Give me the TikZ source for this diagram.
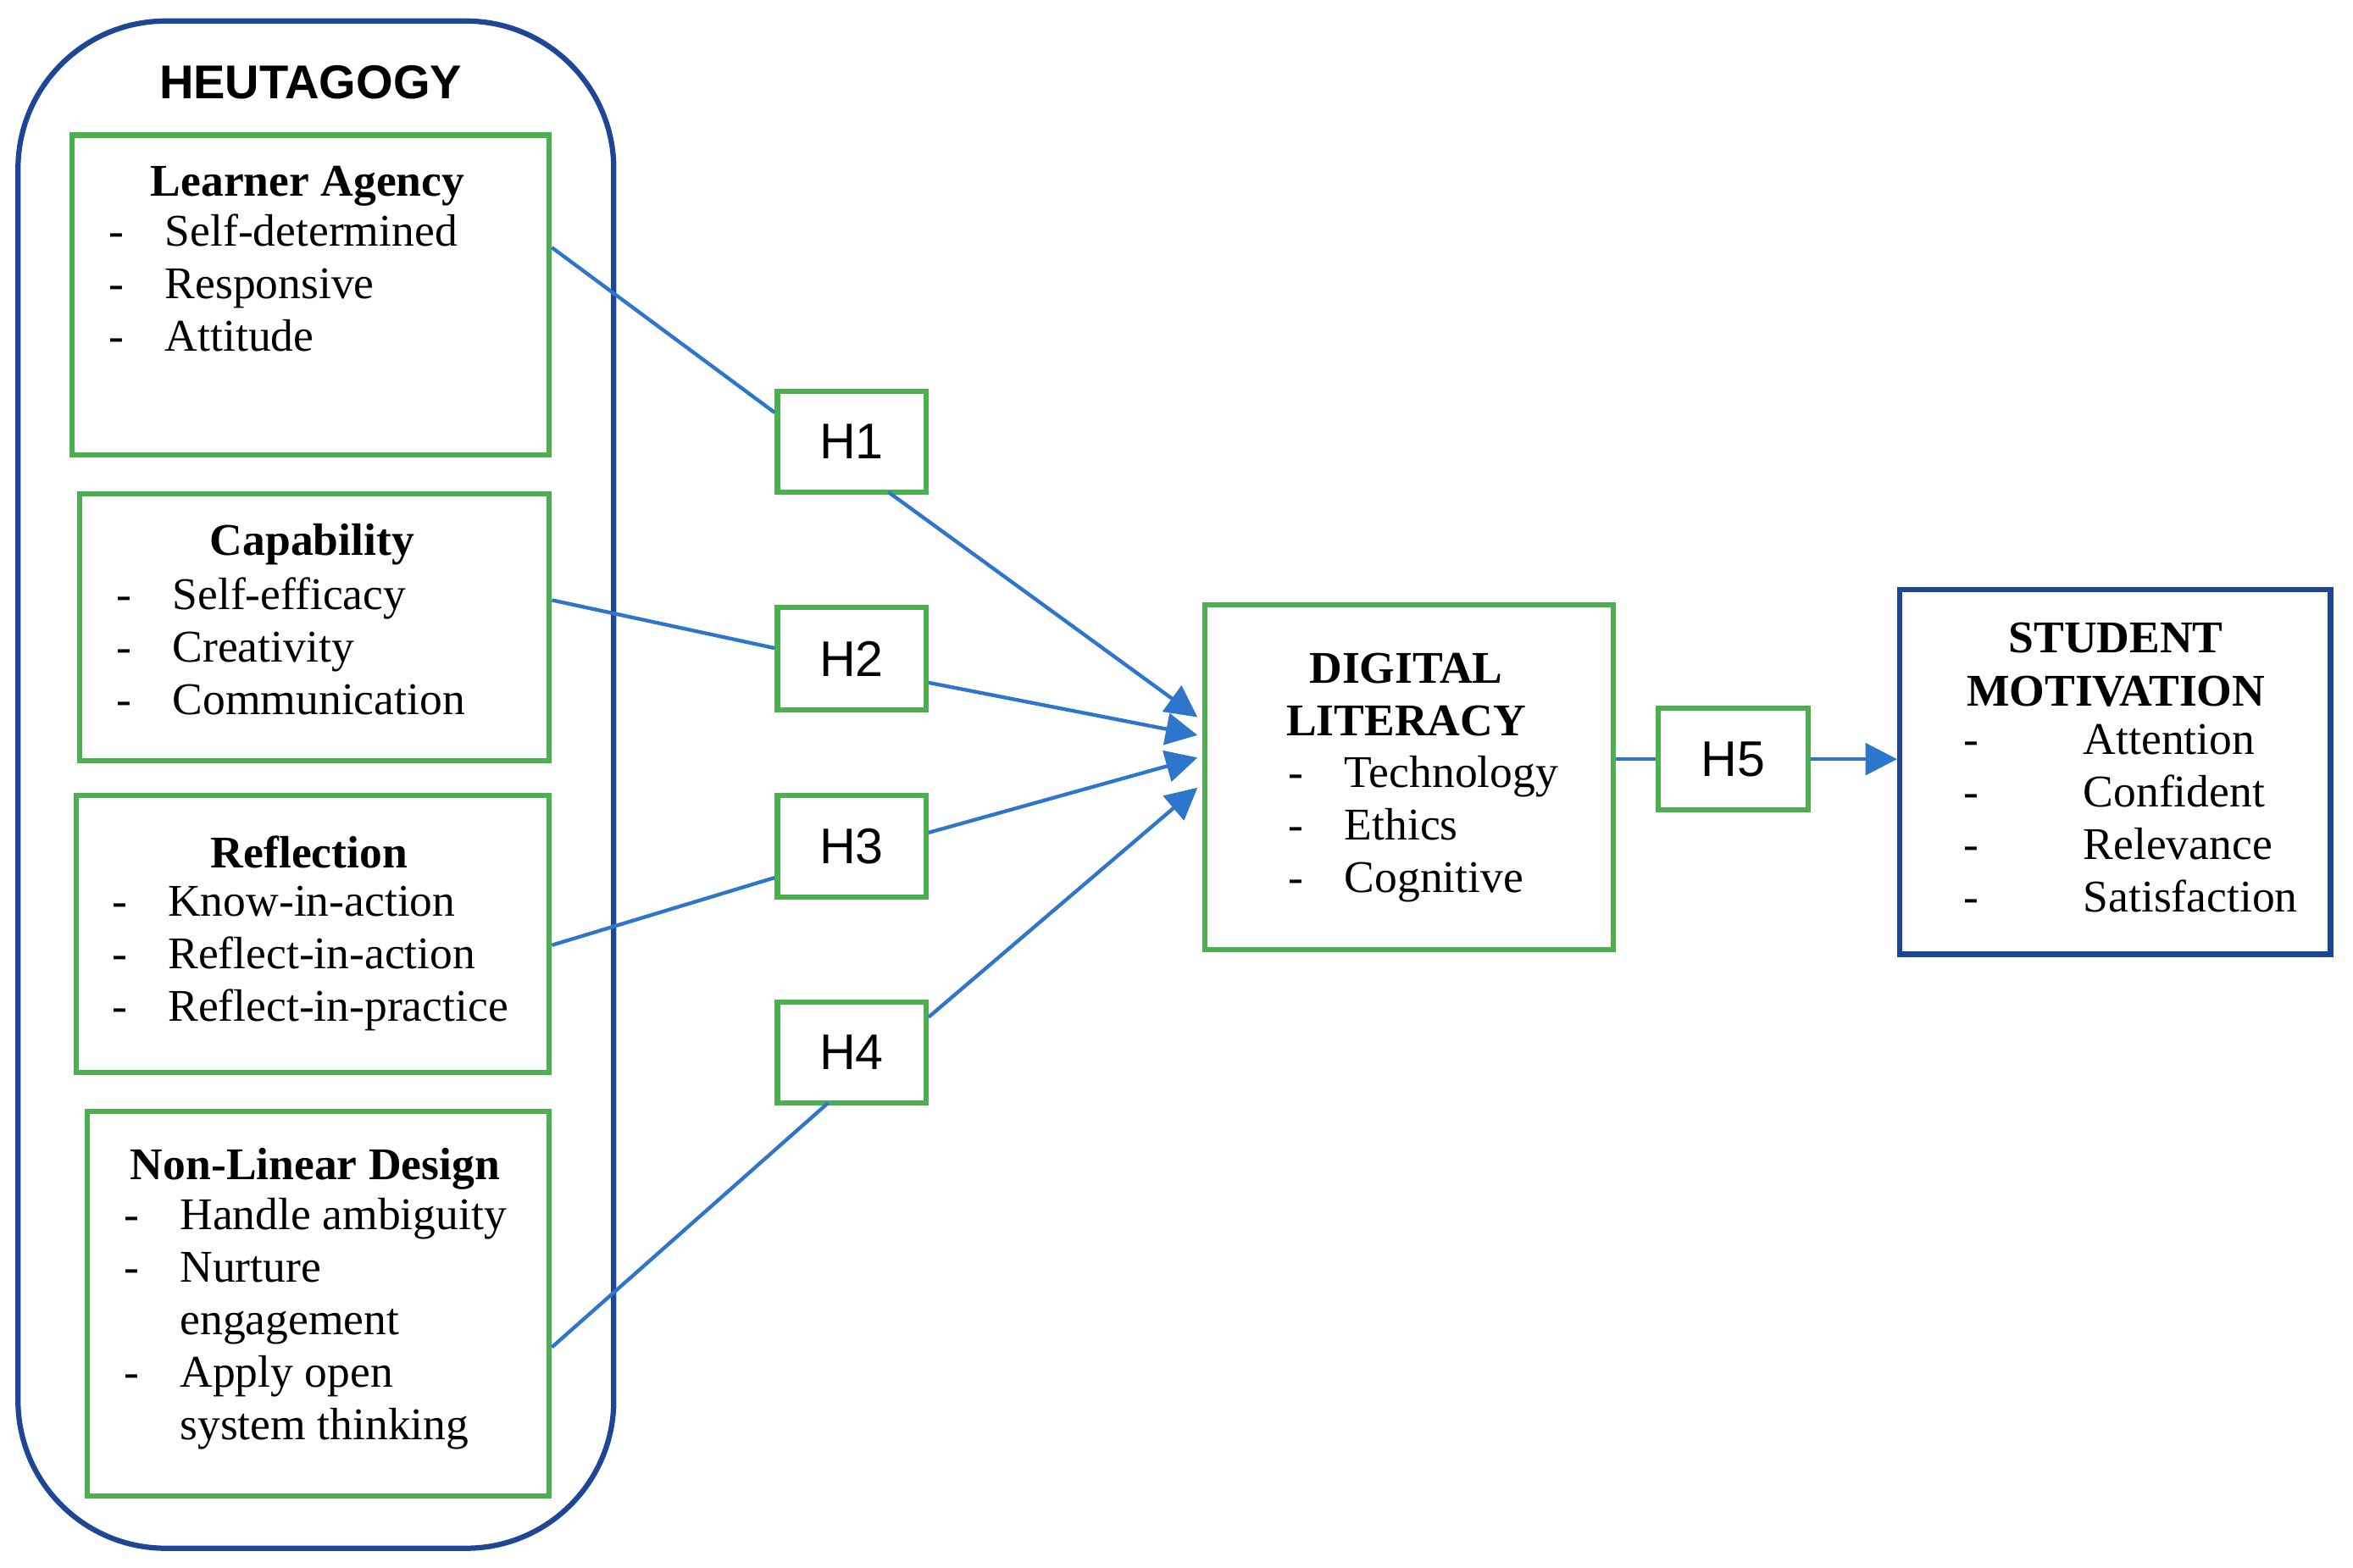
\documentclass[tikz,border=0pt]{standalone}
\usepackage{fontspec}
\setmainfont{Liberation Serif}
\newfontfamily\hfont{Liberation Sans}
\usetikzlibrary{fit,arrows.meta}
\definecolor{boxgreen}{RGB}{76,175,80}
\definecolor{lineblue}{RGB}{46,117,204}
\definecolor{darkblue}{RGB}{30,70,150}
\tikzset{
  gbox/.style={draw=boxgreen,line width=1pt,inner sep=0pt},
  bbox/.style={draw=darkblue,line width=1pt,inner sep=0pt},
  hyp/.style={gbox,label={[font=\hfont\fontsize{9.5}{12}\selectfont]center:#1}},
  ttl/.style={font=\bfseries\fontsize{8.6}{10}\selectfont,align=center},
  lst/.style={anchor=north west,inner sep=0pt,font=\fontsize{8.6}{9.96}\selectfont,align=left},
  con/.style={draw=lineblue,line width=0.7pt},
  arr/.style={con,-{Triangle[length=6pt,width=6pt]}}
}
\newcommand{\itm}[1]{-\hspace{0.9em}#1}
\begin{document}
\begin{tikzpicture}[x=0.01cm,y=-0.01cm]
\useasboundingbox (0,0) rectangle (1568,1045);
% outer frame
\draw[darkblue,line width=1pt,rounded corners=28pt] (12,14) rectangle (409,1032);
\node[font=\hfont\bfseries\fontsize{9}{11}\selectfont] (heu) at (207,55) {HEUTAGOGY};
% boxes
\node[gbox,fit={(48,90)(366,303)}] (la) {};
\node[gbox,fit={(53,329)(366,507)}] (cap) {};
\node[gbox,fit={(51,530)(366,715)}] (ref) {};
\node[gbox,fit={(58,741)(366,997)}] (nld) {};
\node[hyp=H1,fit={(518,261)(617,328)}] (h1) {};
\node[hyp=H2,fit={(518,405)(617,473)}] (h2) {};
\node[hyp=H3,fit={(518,530)(617,598)}] (h3) {};
\node[hyp=H4,fit={(518,668)(617,735)}] (h4) {};
\node[gbox,fit={(803,403)(1075,633)}] (dl) {};
\node[hyp=H5,fit={(1105,472)(1205,540)}] (h5) {};
\node[bbox,fit={(1266,393)(1553,636)}] (sm) {};
% texts
\node[ttl] (lat) at (205,124) {Learner Agency};
\node[lst] (lal) at (72,142) {\itm{Self-determined}\\ \itm{Responsive}\\ \itm{Attitude}};
\node[ttl] (capt) at (208,363) {Capability};
\node[lst] (capl) at (77,384) {\itm{Self-efficacy}\\ \itm{Creativity}\\ \itm{Communication}};
\node[ttl] (reft) at (206,568) {Reflection};
\node[lst] (refl) at (74,590) {\itm{Know-in-action}\\ \itm{Reflect-in-action}\\ \itm{Reflect-in-practice}};
\node[ttl] (nldt) at (210,779) {Non-Linear Design};
\node[lst] (nldl) at (82,798) {\itm{Handle ambiguity}\\ \itm{Nurture}\\ \hphantom{-\hspace{0.9em}}engagement\\ \itm{Apply open}\\ \hphantom{-\hspace{0.9em}}system thinking};
\node[ttl] (dlt) at (937,463) {DIGITAL\\LITERACY};
\node[lst] (dll) at (858,503) {\itm{Technology}\\ \itm{Ethics}\\ \itm{Cognitive}};
\node[ttl] (smt) at (1410,443) {STUDENT\\MOTIVATION};
\node[lst] (sml) at (1308,482) {-\hspace{2.3em}Attention\\ -\hspace{2.3em}Confident\\ -\hspace{2.3em}Relevance\\ -\hspace{2.3em}Satisfaction};
% connectors
\coordinate (d1) at (798,478);
\coordinate (d2) at (798,490);
\coordinate (d3) at (798,505);
\coordinate (d4) at (798,525);
\draw[con] (la.east |- 0,165) -- (h1.west |- 0,275);
\draw[arr] (592,328) -- (d1);
\draw[con] (cap.east |- 0,400) -- (h2.west |- 0,432);
\draw[arr] (h2.east |- 0,455) -- (d2);
\draw[con] (ref.east |- 0,630) -- (h3.west |- 0,585);
\draw[arr] (h3.east |- 0,555) -- (d3);
\draw[con] (nld.east |- 0,898) -- (552,735);
\draw[arr] (h4.east |- 0,678) -- (d4);
\draw[con] (dl.east |- h5.west) -- (h5.west);
\draw[arr] (h5.east) -- (sm.west |- h5.east);
\end{tikzpicture}
\end{document}
